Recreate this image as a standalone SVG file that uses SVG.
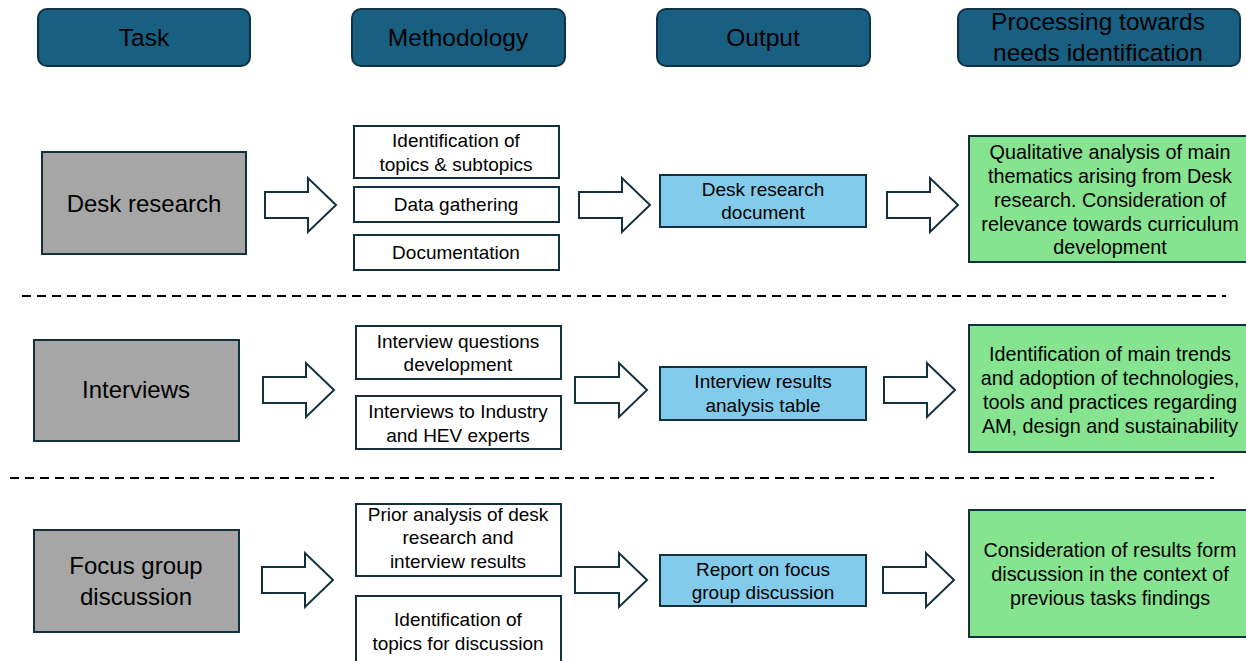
<svg xmlns="http://www.w3.org/2000/svg" width="1246" height="661" viewBox="0 0 1246 661">
<defs>
<style>
.hdr{fill:#185f82;stroke:#0f3344;stroke-width:2}
.task{fill:#a6a6a6;stroke:#13303f;stroke-width:2}
.meth{fill:#ffffff;stroke:#13303f;stroke-width:2}
.out{fill:#83cbeb;stroke:#13303f;stroke-width:2}
.proc{fill:#86e390;stroke:#13303f;stroke-width:2}
.arr{fill:#ffffff;stroke:#13303f;stroke-width:2;stroke-linejoin:miter}
.dash{stroke:#000;stroke-width:2;stroke-dasharray:9 6;fill:none}
text{font-family:"Liberation Sans",Arial,sans-serif;fill:#000;text-anchor:middle}
.th{font-size:24.5px}
.tt{font-size:24px}
.tm{font-size:19px}
.tp{font-size:19.8px}
</style>
</defs>
<rect width="1246" height="661" fill="#ffffff"/>

<g id="hdr-task"><rect class="hdr" x="38" y="9" width="212" height="57" rx="9"/><text class="th" x="144" y="46">Task</text></g>
<g id="hdr-method"><rect class="hdr" x="352" y="9" width="213" height="57" rx="9"/><text class="th" x="458" y="46">Methodology</text></g>
<g id="hdr-output"><rect class="hdr" x="657" y="9" width="213" height="57" rx="9"/><text class="th" x="763" y="46">Output</text></g>
<g id="hdr-proc"><rect class="hdr" x="958" y="9" width="282" height="57" rx="9"/><text class="th" x="1098" y="30">Processing towards</text><text class="th" x="1098" y="61">needs identification</text></g>

<g id="connectors">
<path class="arr" d="M265,192 H308 V178 L336,205 L308,232 V218 H265 Z"/>
<path class="arr" d="M579,192 H622 V178 L650,205 L622,232 V218 H579 Z"/>
<path class="arr" d="M887,192 H930 V178 L958,205 L930,232 V218 H887 Z"/>
<path class="arr" d="M263,377 H306 V363 L334,390 L306,417 V403 H263 Z"/>
<path class="arr" d="M575,377 H619 V363 L647,390 L619,417 V403 H575 Z"/>
<path class="arr" d="M884,377 H927 V363 L955,390 L927,417 V403 H884 Z"/>
<path class="arr" d="M262,567 H305 V553 L333,580 L305,607 V593 H262 Z"/>
<path class="arr" d="M575,567 H619 V553 L647,580 L619,607 V593 H575 Z"/>
<path class="arr" d="M883,567 H926 V553 L954,580 L926,607 V593 H883 Z"/>
</g>

<g id="dividers">
<line class="dash" x1="22" y1="296" x2="1226" y2="296"/>
<line class="dash" x1="10" y1="478" x2="1214" y2="478"/>
</g>

<g id="task-desk"><rect class="task" x="42" y="152" width="204" height="102"/><text class="tt" x="144" y="212">Desk research</text></g>
<g id="m-desk-1"><rect class="meth" x="354" y="126" width="205" height="52"/><text class="tm" x="456" y="147">Identification of</text><text class="tm" x="456" y="171">topics &amp; subtopics</text></g>
<g id="m-desk-2"><rect class="meth" x="354" y="187" width="205" height="35"/><text class="tm" x="456" y="211">Data gathering</text></g>
<g id="m-desk-3"><rect class="meth" x="354" y="235" width="205" height="35"/><text class="tm" x="456" y="259">Documentation</text></g>
<g id="o-desk"><rect class="out" x="660" y="175" width="206" height="52"/><text class="tm" x="763" y="196">Desk research</text><text class="tm" x="763" y="219">document</text></g>
<g id="p-desk"><rect class="proc" x="969" y="136" width="282" height="126"/>
<text class="tp" x="1110" y="159">Qualitative analysis of main</text>
<text class="tp" x="1110" y="183">thematics arising from Desk</text>
<text class="tp" x="1110" y="207">research. Consideration of</text>
<text class="tp" x="1110" y="231">relevance towards curriculum</text>
<text class="tp" x="1110" y="254">development</text></g>

<g id="task-int"><rect class="task" x="34" y="340" width="205" height="101"/><text class="tt" x="136" y="398">Interviews</text></g>
<g id="m-int-1"><rect class="meth" x="356" y="326" width="205" height="53"/><text class="tm" x="458" y="348">Interview questions</text><text class="tm" x="458" y="371">development</text></g>
<g id="m-int-2"><rect class="meth" x="356" y="396" width="205" height="53"/><text class="tm" x="458" y="418">Interviews to Industry</text><text class="tm" x="458" y="442">and HEV experts</text></g>
<g id="o-int"><rect class="out" x="660" y="367" width="206" height="53"/><text class="tm" x="763" y="388">Interview results</text><text class="tm" x="763" y="412">analysis table</text></g>
<g id="p-int"><rect class="proc" x="969" y="325" width="282" height="127"/>
<text class="tp" x="1110" y="361">Identification of main trends</text>
<text class="tp" x="1110" y="385">and adoption of technologies,</text>
<text class="tp" x="1110" y="409">tools and practices regarding</text>
<text class="tp" x="1110" y="433">AM, design and sustainability</text></g>

<g id="task-focus"><rect class="task" x="34" y="530" width="205" height="102"/><text class="tt" x="136" y="574">Focus group</text><text class="tt" x="136" y="605">discussion</text></g>
<g id="m-focus-1"><rect class="meth" x="356" y="504" width="205" height="72"/><text class="tm" x="458" y="521">Prior analysis of desk</text><text class="tm" x="458" y="544">research and</text><text class="tm" x="458" y="568">interview results</text></g>
<g id="m-focus-2"><rect class="meth" x="356" y="596" width="205" height="70"/><text class="tm" x="458" y="626">Identification of</text><text class="tm" x="458" y="650">topics for discussion</text></g>
<g id="o-focus"><rect class="out" x="660" y="555" width="206" height="51"/><text class="tm" x="763" y="576">Report on focus</text><text class="tm" x="763" y="599">group discussion</text></g>
<g id="p-focus"><rect class="proc" x="969" y="510" width="282" height="127"/>
<text class="tp" x="1110" y="557">Consideration of results form</text>
<text class="tp" x="1110" y="581">discussion in the context of</text>
<text class="tp" x="1110" y="605">previous tasks findings</text></g>
</svg>
